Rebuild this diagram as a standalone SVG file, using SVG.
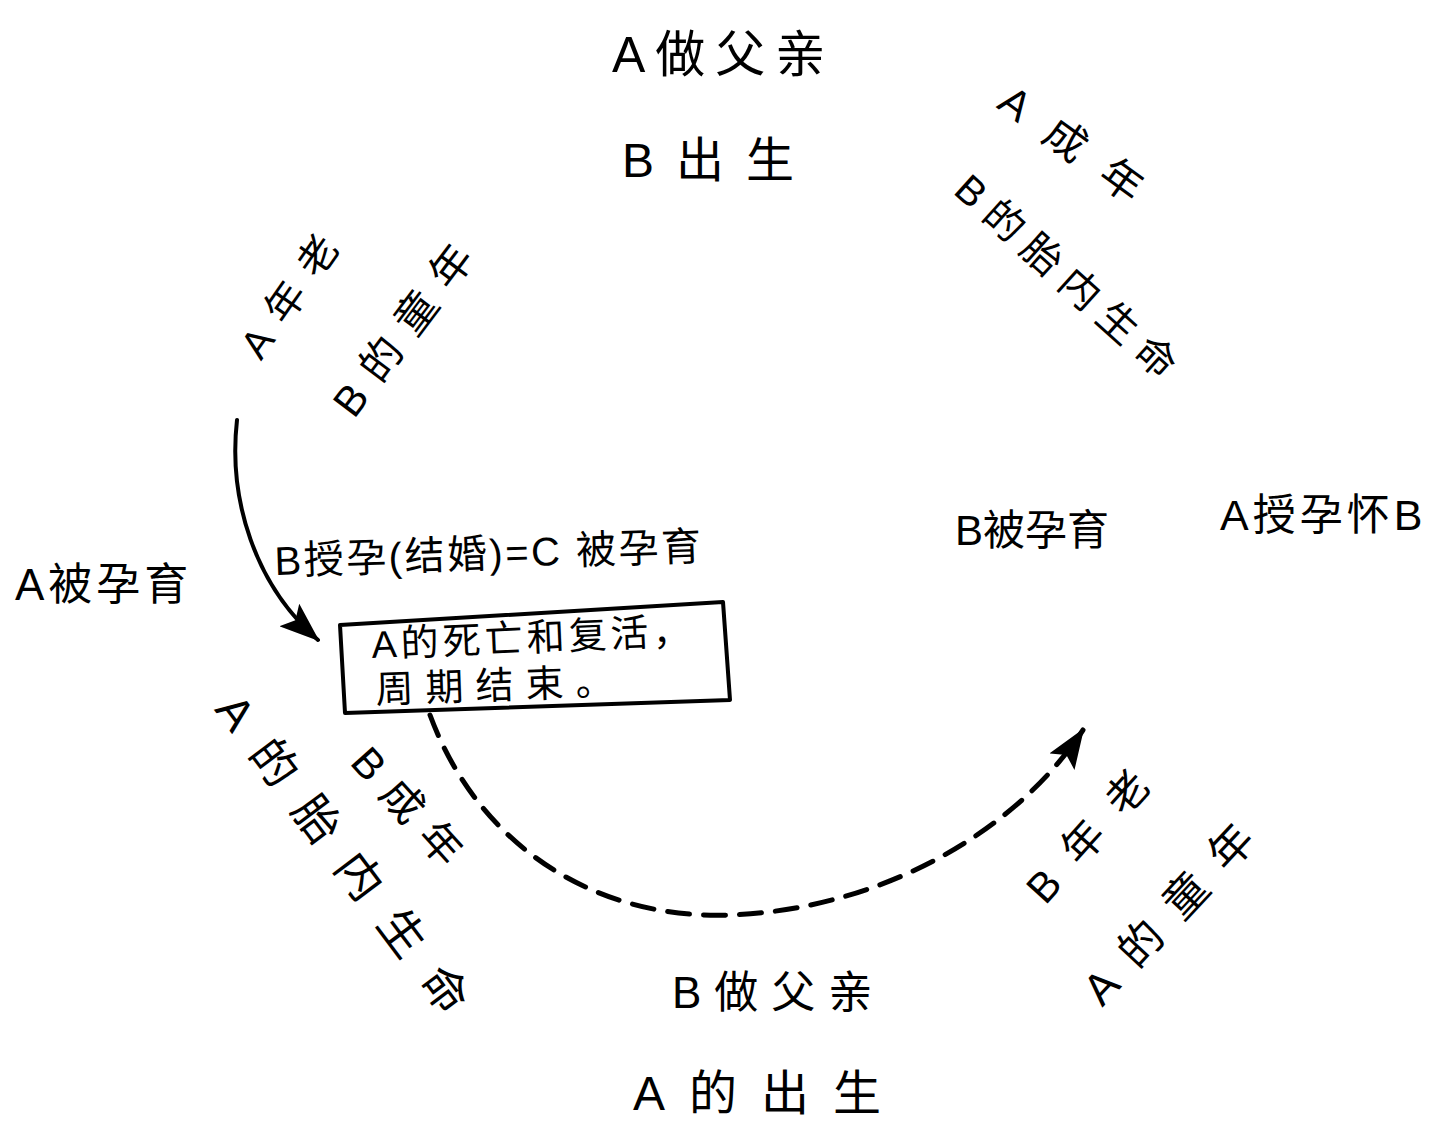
<svg xmlns="http://www.w3.org/2000/svg" width="1441" height="1123" viewBox="0 0 1441 1123">
<style>
  text { font-family: 'Liberation Sans', 'Noto Sans CJK SC', sans-serif; fill: #000; }
  .rot { text-anchor: middle; dominant-baseline: central; }
  .conn { fill: none; stroke: #000; stroke-linecap: round; }
</style>
<defs>
  <marker id="head" viewBox="0 0 40 30" refX="38" refY="15" markerWidth="40" markerHeight="30" markerUnits="userSpaceOnUse" orient="auto">
    <path d="M0,0 L40,15 L0,30 L8,15 z" fill="#000"/>
  </marker>
</defs>
<rect width="1441" height="1123" fill="#fff"/>

<g id="connectors">
  <path class="conn" d="M237,420 C228,500 255,585 318,640" stroke-width="4" marker-end="url(#head)"/>
  <path class="conn" d="M430,715 C480,850 600,920 730,915 C870,910 1010,840 1083,730" stroke-width="5" stroke-dasharray="22 14" marker-end="url(#head)"/>
</g>

<g id="n-a-father"><text x="612" y="72" font-size="50" letter-spacing="10">A做父亲</text></g>
<g id="n-b-birth"><text x="622" y="177" font-size="48" letter-spacing="22">B出生</text></g>
<g id="n-a-adult"><text class="rot" transform="translate(1082,152) rotate(36)" font-size="42" letter-spacing="27">A成年</text></g>
<g id="n-b-prenatal"><text class="rot" transform="translate(1070,280) rotate(42)" font-size="40" letter-spacing="11">B的胎内生命</text></g>
<g id="n-a-old"><text class="rot" transform="translate(294,290) rotate(-55)" font-size="40" letter-spacing="16">A年老</text></g>
<g id="n-b-childhood"><text class="rot" transform="translate(408,324) rotate(-53)" font-size="42" letter-spacing="16">B的童年</text></g>
<g id="n-b-conceived"><text x="955" y="545" font-size="42">B被孕育</text></g>
<g id="n-a-conceives-b"><text x="1220" y="530" font-size="43" letter-spacing="4">A授孕怀B</text></g>
<g id="n-a-conceived"><text x="15" y="600" font-size="44" letter-spacing="4">A被孕育</text></g>
<g id="n-b-marriage"><text x="275" y="575" font-size="40" letter-spacing="2.5" transform="rotate(-2 275 575)">B授孕(结婚)=C 被孕育</text></g>

<g id="n-box">
  <polygon points="340,625 723,602 730,700 345,713" fill="none" stroke="#000" stroke-width="4" stroke-linejoin="round"/>
  <text x="372" y="658" font-size="38" letter-spacing="4" transform="rotate(-2.5 372 658)">A的死亡和复活，</text>
  <text x="376" y="703" font-size="38" letter-spacing="12" transform="rotate(-2 376 703)">周期结束。</text>
</g>

<g id="n-a-prenatal"><text class="rot" transform="translate(350,864) rotate(53)" font-size="46" letter-spacing="25">A的胎内生命</text></g>
<g id="n-b-adult"><text class="rot" transform="translate(412,812) rotate(48)" font-size="42" letter-spacing="15">B成年</text></g>
<g id="n-b-old"><text class="rot" transform="translate(1096,828) rotate(-48)" font-size="42" letter-spacing="24">B年老</text></g>
<g id="n-a-childhood"><text class="rot" transform="translate(1176,906) rotate(-47)" font-size="44" letter-spacing="22">A的童年</text></g>
<g id="n-b-father"><text x="672" y="1008" font-size="44" letter-spacing="13">B做父亲</text></g>
<g id="n-a-birth"><text x="633" y="1110" font-size="48" letter-spacing="24">A的出生</text></g>
</svg>
